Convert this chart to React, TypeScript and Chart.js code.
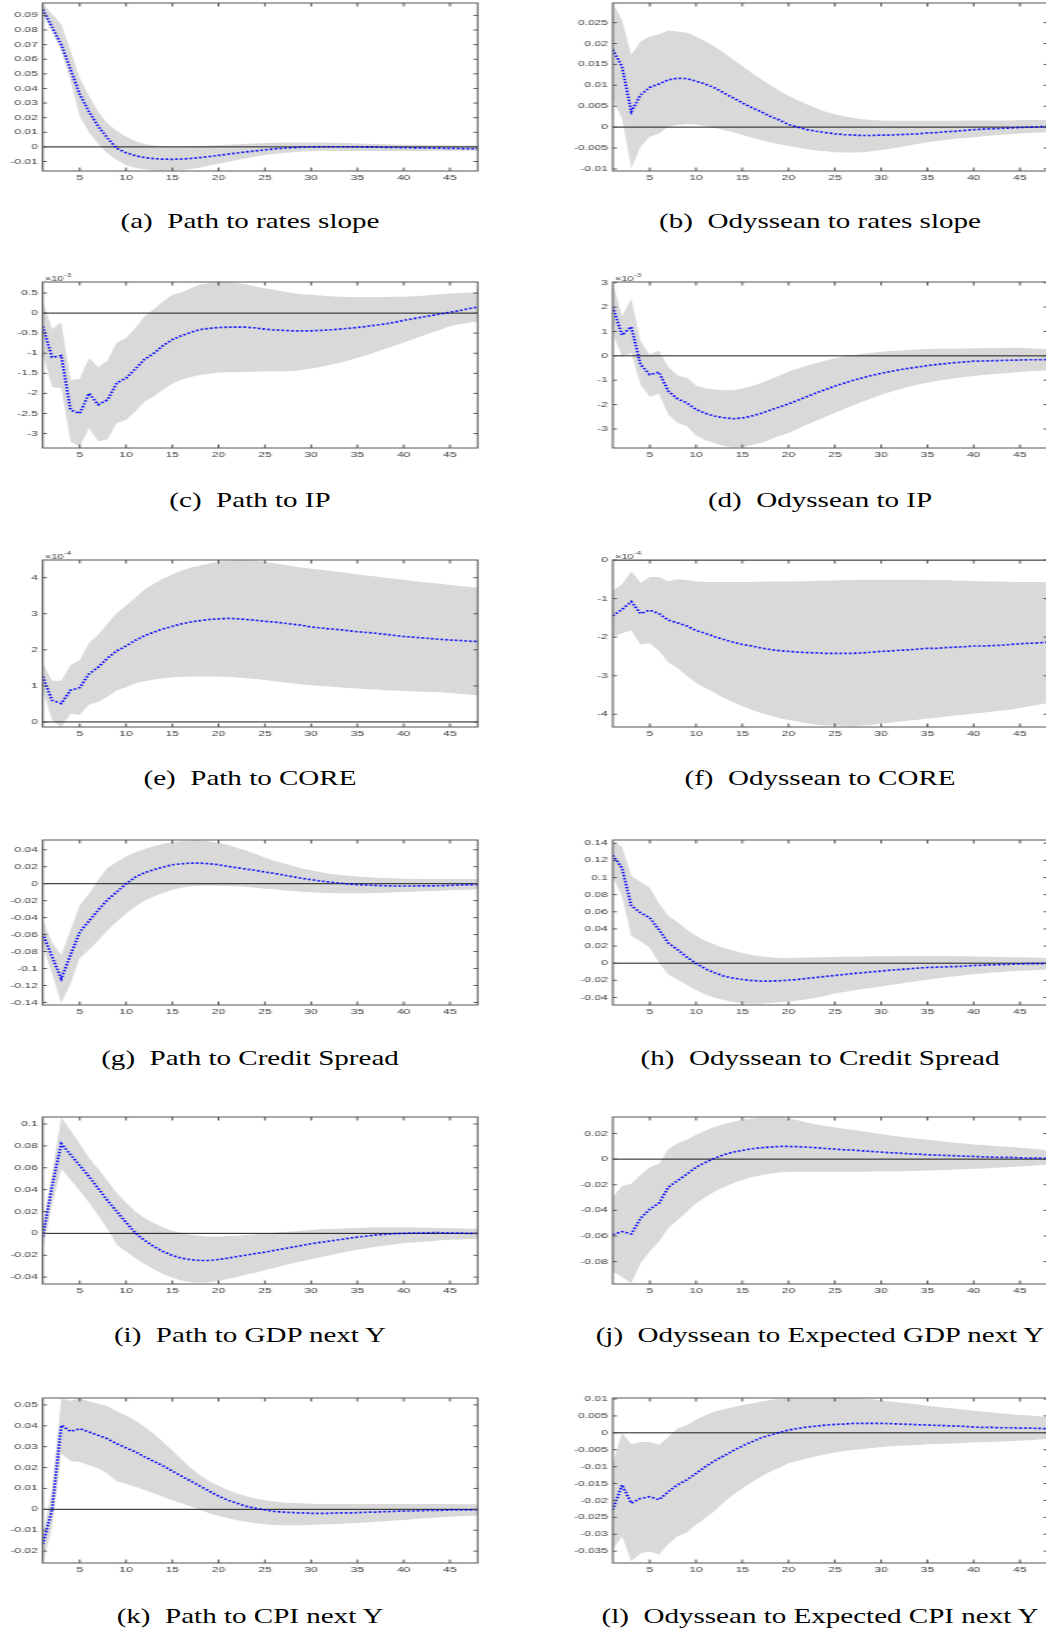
import React, { useEffect, useRef } from "react";
import { Chart, registerables } from "chart.js";

Chart.register(...registerables);

// ---------- horizon axis ----------
const HORIZONS = [1, 2, 3, 4, 5, 6, 7, 8, 9, 10, 11, 12, 13, 14, 15, 16, 17, 18, 19, 20, 21, 22, 23, 24, 25, 26, 27, 28, 29, 30, 31, 32, 33, 34, 35, 36, 37, 38, 39, 40, 41, 42, 43, 44, 45, 46, 47, 48];
const X_TICKS = [5, 10, 15, 20, 25, 30, 35, 40, 45];
const ZERO_REF = 0;

// ---------- (a) Path to rates slope ----------
const A_MEAN = [0.094, 0.082, 0.070, 0.053, 0.036, 0.024, 0.014, 0.006, -0.001, -0.004, -0.006, -0.0073, -0.0080, -0.0084, -0.0085, -0.0083, -0.0079, -0.0073, -0.0066, -0.0058, -0.0050, -0.0042, -0.0034, -0.0027, -0.0020, -0.0014, -0.0009, -0.0005, -0.0002, 0.0000, 0.0001, 0.0001, 0.0001, 0.0001, 0.0000, -0.0001, -0.0002, -0.0003, -0.0004, -0.0005, -0.0006, -0.0007, -0.0008, -0.0009, -0.0010, -0.0011, -0.0012, -0.0013];
const A_UPPER = [0.098, 0.091, 0.084, 0.066, 0.047, 0.035, 0.024, 0.016, 0.011, 0.007, 0.004, 0.002, 0.001, 0.0005, 0.0003, 0.0003, 0.0004, 0.0006, 0.0009, 0.0012, 0.0015, 0.0018, 0.0021, 0.0024, 0.0026, 0.0028, 0.0030, 0.0030, 0.0030, 0.0030, 0.0030, 0.0029, 0.0028, 0.0026, 0.0024, 0.0022, 0.0020, 0.0018, 0.0016, 0.0015, 0.0014, 0.0013, 0.0012, 0.0011, 0.0010, 0.0010, 0.0009, 0.0009];
const A_LOWER = [0.091, 0.079, 0.066, 0.045, 0.021, 0.010, 0.002, -0.0046, -0.0090, -0.0126, -0.0144, -0.0153, -0.0160, -0.0162, -0.0161, -0.0158, -0.0152, -0.0141, -0.0128, -0.0115, -0.0102, -0.0090, -0.0078, -0.0066, -0.0056, -0.0048, -0.0041, -0.0036, -0.0032, -0.0029, -0.0027, -0.0027, -0.0028, -0.0028, -0.0028, -0.0028, -0.0028, -0.0028, -0.0028, -0.0028, -0.0028, -0.0028, -0.0027, -0.0027, -0.0027, -0.0027, -0.0027, -0.0027];
const A_TICKS = [-0.01, 0, 0.01, 0.02, 0.03, 0.04, 0.05, 0.06, 0.07, 0.08, 0.09];

// ---------- (b) Odyssean to rates slope ----------
const B_MEAN = [0.0185, 0.0145, 0.0037, 0.0077, 0.0095, 0.0103, 0.0113, 0.0117, 0.0116, 0.0110, 0.0103, 0.0094, 0.0082, 0.0070, 0.0058, 0.0047, 0.0037, 0.0026, 0.0017, 0.0006, 0.0000, -0.0006, -0.0010, -0.0013, -0.0016, -0.0018, -0.0019, -0.0020, -0.0020, -0.0019, -0.0019, -0.0018, -0.0017, -0.0016, -0.0014, -0.0013, -0.0011, -0.0010, -0.0008, -0.0006, -0.0005, -0.0004, -0.0003, -0.0002, -0.0001, 0.0000, 0.0001, 0.0001];
const B_UPPER = [0.0297, 0.0256, 0.0173, 0.0205, 0.0217, 0.0222, 0.0231, 0.0229, 0.0226, 0.0217, 0.0205, 0.0193, 0.0178, 0.0162, 0.0146, 0.0130, 0.0115, 0.0101, 0.0087, 0.0075, 0.0064, 0.0054, 0.0045, 0.0037, 0.0031, 0.0026, 0.0022, 0.0019, 0.0017, 0.0016, 0.0015, 0.0015, 0.0015, 0.0015, 0.0015, 0.0015, 0.0015, 0.0015, 0.0016, 0.0016, 0.0016, 0.0016, 0.0016, 0.0016, 0.0017, 0.0017, 0.0017, 0.0017];
const B_LOWER = [0.0065, 0.0021, -0.0099, -0.0047, -0.0023, -0.0015, 0.0001, 0.0005, 0.0007, 0.0006, 0.0002, -0.0002, -0.0007, -0.0012, -0.0019, -0.0025, -0.0031, -0.0036, -0.0041, -0.0045, -0.0049, -0.0053, -0.0056, -0.0058, -0.0060, -0.0061, -0.0061, -0.0060, -0.0058, -0.0055, -0.0052, -0.0048, -0.0044, -0.0040, -0.0036, -0.0033, -0.0031, -0.0028, -0.0026, -0.0024, -0.0022, -0.0020, -0.0018, -0.0017, -0.0015, -0.0014, -0.0013, -0.0013];
const B_TICKS = [-0.01, -0.005, 0, 0.005, 0.01, 0.015, 0.02, 0.025];

// ---------- (c) Path to IP (x 1e-3) ----------
const C_MEAN = [-0.33, -1.10, -1.06, -2.41, -2.50, -2.00, -2.28, -2.16, -1.74, -1.62, -1.39, -1.15, -1.00, -0.81, -0.66, -0.56, -0.48, -0.41, -0.38, -0.36, -0.35, -0.35, -0.35, -0.37, -0.40, -0.42, -0.43, -0.44, -0.44, -0.44, -0.43, -0.42, -0.40, -0.38, -0.36, -0.33, -0.30, -0.27, -0.23, -0.18, -0.14, -0.10, -0.06, -0.02, 0.02, 0.06, 0.11, 0.15];
const C_UPPER = [0.29, -0.40, -0.23, -1.66, -1.64, -1.12, -1.35, -1.18, -0.73, -0.62, -0.37, -0.08, 0.10, 0.29, 0.46, 0.52, 0.62, 0.71, 0.75, 0.77, 0.77, 0.75, 0.71, 0.66, 0.62, 0.58, 0.54, 0.50, 0.47, 0.46, 0.44, 0.42, 0.41, 0.40, 0.40, 0.40, 0.40, 0.40, 0.41, 0.41, 0.42, 0.43, 0.45, 0.47, 0.49, 0.50, 0.51, 0.52];
const C_LOWER = [-1.00, -1.84, -1.87, -3.20, -3.32, -2.86, -3.20, -3.14, -2.74, -2.66, -2.45, -2.20, -2.07, -1.91, -1.76, -1.66, -1.59, -1.54, -1.51, -1.48, -1.47, -1.47, -1.46, -1.46, -1.45, -1.45, -1.45, -1.44, -1.42, -1.38, -1.34, -1.29, -1.24, -1.18, -1.12, -1.05, -0.97, -0.89, -0.81, -0.73, -0.65, -0.57, -0.49, -0.41, -0.33, -0.28, -0.24, -0.21];
const C_TICKS = [-3, -2.5, -2, -1.5, -1, -0.5, 0, 0.5];

// ---------- (d) Odyssean to IP (x 1e-3) ----------
const D_MEAN = [2.00, 0.85, 1.19, -0.36, -0.77, -0.67, -1.45, -1.76, -1.93, -2.20, -2.36, -2.47, -2.54, -2.58, -2.55, -2.47, -2.36, -2.23, -2.10, -1.97, -1.82, -1.67, -1.52, -1.38, -1.24, -1.12, -1.00, -0.90, -0.80, -0.72, -0.64, -0.57, -0.51, -0.46, -0.40, -0.36, -0.32, -0.28, -0.25, -0.22, -0.21, -0.20, -0.19, -0.18, -0.17, -0.16, -0.16, -0.15];
const D_UPPER = [3.00, 1.63, 2.34, 0.60, 0.05, 0.22, -0.46, -0.80, -0.90, -1.22, -1.34, -1.38, -1.41, -1.41, -1.34, -1.24, -1.12, -0.97, -0.81, -0.64, -0.52, -0.40, -0.29, -0.19, -0.10, -0.02, 0.04, 0.09, 0.13, 0.17, 0.20, 0.22, 0.24, 0.26, 0.28, 0.29, 0.29, 0.30, 0.30, 0.31, 0.31, 0.32, 0.32, 0.33, 0.33, 0.31, 0.29, 0.26];
const D_LOWER = [0.94, -0.04, 0.12, -1.17, -1.68, -1.55, -2.40, -2.75, -2.88, -3.27, -3.46, -3.57, -3.70, -3.77, -3.74, -3.66, -3.57, -3.43, -3.29, -3.16, -2.99, -2.82, -2.66, -2.50, -2.34, -2.18, -2.03, -1.88, -1.74, -1.60, -1.48, -1.37, -1.27, -1.18, -1.10, -1.03, -0.97, -0.92, -0.87, -0.83, -0.79, -0.75, -0.72, -0.69, -0.66, -0.63, -0.61, -0.59];
const D_TICKS = [-3, -2, -1, 0, 1, 2, 3];

// ---------- (e) Path to CORE (x 1e-4) ----------
const E_MEAN = [1.26, 0.60, 0.51, 0.88, 0.95, 1.33, 1.52, 1.77, 1.97, 2.11, 2.26, 2.39, 2.49, 2.58, 2.65, 2.72, 2.77, 2.81, 2.84, 2.86, 2.87, 2.86, 2.84, 2.82, 2.79, 2.77, 2.74, 2.71, 2.68, 2.63, 2.61, 2.58, 2.56, 2.53, 2.50, 2.48, 2.46, 2.43, 2.40, 2.37, 2.35, 2.33, 2.31, 2.29, 2.27, 2.26, 2.24, 2.23];
const E_UPPER = [1.63, 1.14, 1.14, 1.58, 1.72, 2.19, 2.42, 2.73, 3.02, 3.23, 3.44, 3.67, 3.83, 3.98, 4.09, 4.20, 4.28, 4.34, 4.39, 4.44, 4.47, 4.48, 4.48, 4.47, 4.44, 4.40, 4.36, 4.32, 4.28, 4.25, 4.22, 4.19, 4.16, 4.13, 4.09, 4.06, 4.03, 4.00, 3.97, 3.94, 3.91, 3.88, 3.85, 3.83, 3.80, 3.77, 3.75, 3.72];
const E_LOWER = [0.88, 0.05, -0.14, 0.23, 0.19, 0.48, 0.56, 0.70, 0.88, 0.96, 1.07, 1.13, 1.18, 1.21, 1.24, 1.25, 1.26, 1.26, 1.26, 1.26, 1.25, 1.23, 1.21, 1.19, 1.16, 1.13, 1.10, 1.07, 1.04, 1.02, 1.00, 0.98, 0.96, 0.94, 0.93, 0.91, 0.90, 0.88, 0.87, 0.86, 0.85, 0.84, 0.83, 0.82, 0.80, 0.78, 0.76, 0.74];
const E_TICKS = [0, 1, 2, 3, 4];

// ---------- (f) Odyssean to CORE (x 1e-4) ----------
const F_MEAN = [-1.45, -1.28, -1.08, -1.39, -1.30, -1.39, -1.56, -1.63, -1.71, -1.83, -1.90, -1.99, -2.06, -2.13, -2.19, -2.23, -2.28, -2.32, -2.35, -2.37, -2.39, -2.40, -2.41, -2.42, -2.42, -2.42, -2.42, -2.41, -2.39, -2.37, -2.36, -2.34, -2.33, -2.31, -2.29, -2.29, -2.27, -2.26, -2.25, -2.23, -2.23, -2.22, -2.21, -2.19, -2.17, -2.16, -2.15, -2.13];
const F_UPPER = [-0.80, -0.63, -0.29, -0.59, -0.44, -0.44, -0.55, -0.50, -0.52, -0.56, -0.57, -0.57, -0.57, -0.57, -0.57, -0.57, -0.56, -0.56, -0.56, -0.56, -0.55, -0.55, -0.54, -0.54, -0.53, -0.52, -0.52, -0.51, -0.51, -0.51, -0.51, -0.51, -0.51, -0.51, -0.52, -0.52, -0.52, -0.53, -0.54, -0.55, -0.55, -0.56, -0.56, -0.57, -0.57, -0.57, -0.57, -0.57];
const F_LOWER = [-1.99, -1.90, -1.83, -2.19, -2.16, -2.36, -2.65, -2.80, -3.00, -3.19, -3.32, -3.45, -3.58, -3.69, -3.79, -3.88, -3.97, -4.03, -4.10, -4.15, -4.19, -4.23, -4.27, -4.29, -4.29, -4.30, -4.31, -4.29, -4.28, -4.24, -4.22, -4.19, -4.16, -4.14, -4.11, -4.09, -4.06, -4.03, -4.01, -3.98, -3.96, -3.93, -3.90, -3.88, -3.84, -3.79, -3.75, -3.71];
const F_TICKS = [-4, -3, -2, -1, 0];

// ---------- (g) Path to Credit Spread ----------
const G_MEAN = [-0.059, -0.086, -0.112, -0.084, -0.057, -0.044, -0.031, -0.019, -0.0098, 0.0000, 0.0078, 0.0130, 0.0165, 0.0196, 0.0223, 0.0235, 0.0243, 0.0243, 0.0235, 0.0223, 0.0204, 0.0188, 0.0172, 0.0157, 0.0137, 0.0122, 0.0102, 0.0082, 0.0063, 0.0047, 0.0031, 0.0020, 0.0008, -0.0004, -0.0012, -0.0016, -0.0020, -0.0024, -0.0027, -0.0027, -0.0027, -0.0026, -0.0025, -0.0024, -0.0020, -0.0016, -0.0012, -0.0008];
const G_UPPER = [-0.043, -0.069, -0.084, -0.055, -0.025, -0.012, 0.0047, 0.0188, 0.0255, 0.032, 0.037, 0.041, 0.044, 0.047, 0.049, 0.050, 0.051, 0.051, 0.050, 0.048, 0.046, 0.042, 0.039, 0.035, 0.031, 0.027, 0.024, 0.021, 0.018, 0.0157, 0.0137, 0.0118, 0.0106, 0.0094, 0.0086, 0.0078, 0.0071, 0.0067, 0.0063, 0.0059, 0.0057, 0.0056, 0.0055, 0.0055, 0.0055, 0.0055, 0.0055, 0.0055];
const G_LOWER = [-0.073, -0.106, -0.141, -0.118, -0.088, -0.078, -0.067, -0.055, -0.045, -0.035, -0.027, -0.020, -0.015, -0.011, -0.007, -0.0047, -0.0031, -0.0024, -0.0024, -0.0024, -0.0027, -0.0031, -0.0039, -0.0047, -0.0059, -0.0067, -0.0078, -0.0086, -0.0094, -0.0102, -0.0106, -0.0110, -0.0114, -0.0114, -0.0114, -0.0114, -0.0110, -0.0106, -0.0102, -0.0098, -0.0094, -0.0090, -0.0086, -0.0082, -0.0078, -0.0074, -0.0070, -0.0067];
const G_TICKS = [-0.14, -0.12, -0.1, -0.08, -0.06, -0.04, -0.02, 0, 0.02, 0.04];

// ---------- (h) Odyssean to Credit Spread ----------
const H_MEAN = [0.126, 0.111, 0.067, 0.059, 0.053, 0.039, 0.0236, 0.0159, 0.0070, -0.0004, -0.0066, -0.0112, -0.0151, -0.0174, -0.0190, -0.0202, -0.0209, -0.0209, -0.0205, -0.0198, -0.0190, -0.0178, -0.0167, -0.0155, -0.0143, -0.0132, -0.0120, -0.0112, -0.0101, -0.0093, -0.0081, -0.0074, -0.0066, -0.0058, -0.0050, -0.0047, -0.0043, -0.0039, -0.0035, -0.0027, -0.0023, -0.0019, -0.0016, -0.0012, -0.0008, -0.0006, -0.0004, -0.0004];
const H_UPPER = [0.142, 0.136, 0.102, 0.095, 0.088, 0.070, 0.055, 0.048, 0.039, 0.032, 0.026, 0.0217, 0.0178, 0.0147, 0.0120, 0.0097, 0.0081, 0.0070, 0.0062, 0.0062, 0.0064, 0.0066, 0.0068, 0.0070, 0.0072, 0.0074, 0.0076, 0.0078, 0.0080, 0.0081, 0.0082, 0.0083, 0.0084, 0.0085, 0.0085, 0.0085, 0.0084, 0.0082, 0.0080, 0.0078, 0.0076, 0.0074, 0.0072, 0.0070, 0.0068, 0.0066, 0.0064, 0.0062];
const H_LOWER = [0.101, 0.078, 0.032, 0.0256, 0.0178, 0.0004, -0.0132, -0.0190, -0.0256, -0.0314, -0.0364, -0.0403, -0.0430, -0.0453, -0.0469, -0.0473, -0.0473, -0.0465, -0.0457, -0.0446, -0.0435, -0.0422, -0.0403, -0.0379, -0.0353, -0.0335, -0.0318, -0.0302, -0.0286, -0.0271, -0.0255, -0.0239, -0.0223, -0.0207, -0.0192, -0.0178, -0.0165, -0.0152, -0.0140, -0.0129, -0.0119, -0.0110, -0.0102, -0.0095, -0.0089, -0.0084, -0.0079, -0.0074];
const H_TICKS = [-0.04, -0.02, 0, 0.02, 0.04, 0.06, 0.08, 0.1, 0.12, 0.14];

// ---------- (i) Path to GDP next Y ----------
const I_MEAN = [-0.003, 0.043, 0.082, 0.072, 0.062, 0.052, 0.041, 0.030, 0.020, 0.010, 0.0003, -0.0064, -0.0120, -0.0166, -0.0202, -0.0227, -0.0242, -0.0248, -0.0248, -0.0239, -0.0227, -0.0212, -0.0199, -0.0184, -0.0172, -0.0156, -0.0141, -0.0126, -0.0110, -0.0095, -0.0083, -0.0071, -0.0058, -0.0046, -0.0034, -0.0025, -0.0015, -0.0009, -0.0003, 0.0000, 0.0003, 0.0003, 0.0006, 0.0006, 0.0003, 0.0003, 0.0000, 0.0000];
const I_UPPER = [0.006, 0.055, 0.106, 0.094, 0.082, 0.069, 0.059, 0.048, 0.037, 0.028, 0.020, 0.0141, 0.0095, 0.0055, 0.0025, 0.0003, -0.0012, -0.0021, -0.0028, -0.0028, -0.0025, -0.0021, -0.0015, -0.0009, 0.0000, 0.0006, 0.0012, 0.0018, 0.0025, 0.0031, 0.0037, 0.0040, 0.0043, 0.0046, 0.0049, 0.0052, 0.0055, 0.0055, 0.0055, 0.0055, 0.0055, 0.0052, 0.0052, 0.0049, 0.0046, 0.0046, 0.0043, 0.0043];
const I_LOWER = [-0.015, 0.026, 0.059, 0.049, 0.039, 0.028, 0.0163, 0.0040, -0.0104, -0.0166, -0.0227, -0.0279, -0.0328, -0.0371, -0.0405, -0.0432, -0.0448, -0.0451, -0.0448, -0.0436, -0.0417, -0.0399, -0.0377, -0.0359, -0.0337, -0.0316, -0.0294, -0.0273, -0.0255, -0.0236, -0.0218, -0.0199, -0.0181, -0.0166, -0.0150, -0.0135, -0.0123, -0.0110, -0.0101, -0.0089, -0.0083, -0.0077, -0.0071, -0.0064, -0.0058, -0.0055, -0.0052, -0.0049];
const I_TICKS = [-0.04, -0.02, 0, 0.02, 0.04, 0.06, 0.08, 0.1];

// ---------- (j) Odyssean to Expected GDP next Y ----------
const J_MEAN = [-0.0590, -0.0566, -0.0584, -0.0462, -0.0391, -0.0344, -0.0219, -0.0167, -0.0117, -0.0063, -0.0026, 0.0008, 0.0034, 0.0055, 0.0068, 0.0081, 0.0089, 0.0094, 0.0099, 0.0099, 0.0097, 0.0094, 0.0089, 0.0083, 0.0078, 0.0073, 0.0070, 0.0065, 0.0060, 0.0055, 0.0050, 0.0047, 0.0042, 0.0039, 0.0034, 0.0031, 0.0029, 0.0026, 0.0023, 0.0021, 0.0018, 0.0016, 0.0013, 0.0013, 0.0010, 0.0008, 0.0008, 0.0005];
const J_UPPER = [-0.0297, -0.0209, -0.0193, -0.0123, -0.0063, -0.0037, 0.0078, 0.0125, 0.0151, 0.0190, 0.0224, 0.0250, 0.0274, 0.0292, 0.0308, 0.0316, 0.0323, 0.0326, 0.0326, 0.0318, 0.0303, 0.0287, 0.0271, 0.0258, 0.0248, 0.0237, 0.0227, 0.0217, 0.0206, 0.0196, 0.0185, 0.0177, 0.0167, 0.0159, 0.0151, 0.0143, 0.0136, 0.0128, 0.0123, 0.0115, 0.0110, 0.0104, 0.0099, 0.0094, 0.0089, 0.0083, 0.0078, 0.0068];
const J_LOWER = [-0.0879, -0.0918, -0.0970, -0.0814, -0.0722, -0.0644, -0.0540, -0.0475, -0.0410, -0.0344, -0.0297, -0.0253, -0.0219, -0.0188, -0.0162, -0.0141, -0.0125, -0.0112, -0.0104, -0.0099, -0.0099, -0.0099, -0.0099, -0.0099, -0.0099, -0.0099, -0.0098, -0.0098, -0.0097, -0.0097, -0.0096, -0.0095, -0.0093, -0.0091, -0.0089, -0.0087, -0.0084, -0.0081, -0.0079, -0.0076, -0.0073, -0.0069, -0.0066, -0.0062, -0.0057, -0.0053, -0.0048, -0.0044];
const J_TICKS = [-0.08, -0.06, -0.04, -0.02, 0, 0.02];

// ---------- (k) Path to CPI next Y ----------
const K_MEAN = [-0.0167, -0.0003, 0.0402, 0.0373, 0.0386, 0.0370, 0.0354, 0.0338, 0.0314, 0.0294, 0.0275, 0.0251, 0.0230, 0.0208, 0.0183, 0.0159, 0.0135, 0.0111, 0.0087, 0.0063, 0.0044, 0.0029, 0.0014, 0.0005, -0.0003, -0.0010, -0.0013, -0.0016, -0.0017, -0.0019, -0.0019, -0.0019, -0.0017, -0.0017, -0.0016, -0.0014, -0.0013, -0.0011, -0.0010, -0.0008, -0.0008, -0.0006, -0.0005, -0.0005, -0.0003, -0.0003, -0.0003, -0.0002];
const K_UPPER = [-0.0130, 0.0100, 0.0532, 0.0520, 0.0532, 0.0516, 0.0505, 0.0494, 0.0468, 0.0449, 0.0425, 0.0394, 0.0362, 0.0322, 0.0282, 0.0240, 0.0198, 0.0163, 0.0135, 0.0113, 0.0092, 0.0076, 0.0063, 0.0052, 0.0044, 0.0038, 0.0033, 0.0030, 0.0029, 0.0027, 0.0026, 0.0026, 0.0025, 0.0025, 0.0025, 0.0025, 0.0025, 0.0025, 0.0025, 0.0025, 0.0025, 0.0025, 0.0025, 0.0025, 0.0025, 0.0024, 0.0024, 0.0024];
const K_LOWER = [-0.0257, -0.0090, 0.0267, 0.0230, 0.0227, 0.0211, 0.0195, 0.0171, 0.0135, 0.0121, 0.0108, 0.0092, 0.0076, 0.0060, 0.0044, 0.0029, 0.0013, -0.0003, -0.0019, -0.0032, -0.0043, -0.0052, -0.0060, -0.0067, -0.0071, -0.0075, -0.0076, -0.0076, -0.0076, -0.0075, -0.0073, -0.0071, -0.0070, -0.0068, -0.0065, -0.0063, -0.0060, -0.0057, -0.0054, -0.0051, -0.0048, -0.0044, -0.0041, -0.0038, -0.0035, -0.0033, -0.0032, -0.0030];
const K_TICKS = [-0.02, -0.01, 0, 0.01, 0.02, 0.03, 0.04, 0.05];

// ---------- (l) Odyssean to Expected CPI next Y ----------
const L_MEAN = [-0.0228, -0.0154, -0.0208, -0.0194, -0.0189, -0.0198, -0.0174, -0.0154, -0.0139, -0.0120, -0.0100, -0.0083, -0.0068, -0.0053, -0.0039, -0.0027, -0.0015, -0.0007, 0.0001, 0.0008, 0.0013, 0.0017, 0.0020, 0.0023, 0.0025, 0.0026, 0.0028, 0.0028, 0.0028, 0.0028, 0.0027, 0.0026, 0.0025, 0.0024, 0.0023, 0.0022, 0.0021, 0.0020, 0.0019, 0.0017, 0.0016, 0.0016, 0.0015, 0.0015, 0.0014, 0.0014, 0.0013, 0.0012];
const L_UPPER = [-0.0090, 0.0000, -0.0034, -0.0027, -0.0027, -0.0036, -0.0012, 0.0013, 0.0023, 0.0039, 0.0052, 0.0062, 0.0070, 0.0076, 0.0082, 0.0087, 0.0093, 0.0097, 0.0100, 0.0102, 0.0103, 0.0103, 0.0103, 0.0103, 0.0103, 0.0103, 0.0103, 0.0101, 0.0099, 0.0096, 0.0093, 0.0090, 0.0087, 0.0084, 0.0080, 0.0077, 0.0074, 0.0071, 0.0068, 0.0065, 0.0062, 0.0060, 0.0057, 0.0055, 0.0053, 0.0051, 0.0049, 0.0046];
const L_LOWER = [-0.0346, -0.0306, -0.0380, -0.0356, -0.0351, -0.0360, -0.0329, -0.0306, -0.0295, -0.0272, -0.0252, -0.0231, -0.0205, -0.0184, -0.0164, -0.0146, -0.0130, -0.0115, -0.0103, -0.0090, -0.0083, -0.0076, -0.0069, -0.0063, -0.0058, -0.0054, -0.0051, -0.0048, -0.0045, -0.0042, -0.0040, -0.0038, -0.0037, -0.0036, -0.0034, -0.0033, -0.0032, -0.0031, -0.0030, -0.0028, -0.0028, -0.0027, -0.0026, -0.0025, -0.0023, -0.0022, -0.0020, -0.0018];
const L_TICKS = [-0.035, -0.03, -0.025, -0.02, -0.015, -0.01, -0.005, 0, 0.005, 0.01];

// ---------- layout / style ----------
const SX = 1.6; // horizontal stretch of each plot canvas
const CANVAS_W = 306;
const PAD_TOP = 12;
const X_AXIS_H = 22;
const ROW_TOPS = [3, 282, 560, 840, 1117, 1398];
const ROW_HEIGHTS = [168, 166, 167, 165, 167, 165];
const COL_LEFT = [0, 560];
const Y_AXIS_W = [26.69, 32.94];
const PAD_RIGHT = [7.69, 1.44];
const CAPTION_CX = [250, 819.5];
const CAPTION_BASELINE = 225;
const BAND = "#d9d9d9";
const LINE_BLUE = "#0000ff";
const FRAME = "#555555";
const TICK_COLOR = "#3a3a3a";
const TICK_FONT = { family: "'Liberation Sans', Arial, Helvetica, sans-serif", size: 7.5 };

type PanelSpec = {
  caption: string;
  mean: number[];
  upper: number[];
  lower: number[];
  yMin: number;
  yMax: number;
  yTicks: number[];
  exp: string | null;
  row: number;
  col: number;
};

const PANELS: PanelSpec[] = [
  { caption: "(a)  Path to rates slope", mean: A_MEAN, upper: A_UPPER, lower: A_LOWER, yMin: -0.0165, yMax: 0.0985, yTicks: A_TICKS, exp: null, row: 0, col: 0 },
  { caption: "(b)  Odyssean to rates slope", mean: B_MEAN, upper: B_UPPER, lower: B_LOWER, yMin: -0.0105, yMax: 0.0297, yTicks: B_TICKS, exp: null, row: 0, col: 1 },
  { caption: "(c)  Path to IP", mean: C_MEAN, upper: C_UPPER, lower: C_LOWER, yMin: -3.36, yMax: 0.775, yTicks: C_TICKS, exp: "-3", row: 1, col: 0 },
  { caption: "(d)  Odyssean to IP", mean: D_MEAN, upper: D_UPPER, lower: D_LOWER, yMin: -3.78, yMax: 3.03, yTicks: D_TICKS, exp: "-3", row: 1, col: 1 },
  { caption: "(e)  Path to CORE", mean: E_MEAN, upper: E_UPPER, lower: E_LOWER, yMin: -0.14, yMax: 4.49, yTicks: E_TICKS, exp: "-4", row: 2, col: 0 },
  { caption: "(f)  Odyssean to CORE", mean: F_MEAN, upper: F_UPPER, lower: F_LOWER, yMin: -4.33, yMax: 0, yTicks: F_TICKS, exp: "-4", row: 2, col: 1 },
  { caption: "(g)  Path to Credit Spread", mean: G_MEAN, upper: G_UPPER, lower: G_LOWER, yMin: -0.143, yMax: 0.0515, yTicks: G_TICKS, exp: null, row: 3, col: 0 },
  { caption: "(h)  Odyssean to Credit Spread", mean: H_MEAN, upper: H_UPPER, lower: H_LOWER, yMin: -0.0488, yMax: 0.1438, yTicks: H_TICKS, exp: null, row: 3, col: 1 },
  { caption: "(i)  Path to GDP next Y", mean: I_MEAN, upper: I_UPPER, lower: I_LOWER, yMin: -0.0463, yMax: 0.1064, yTicks: I_TICKS, exp: null, row: 4, col: 0 },
  { caption: "(j)  Odyssean to Expected GDP next Y", mean: J_MEAN, upper: J_UPPER, lower: J_LOWER, yMin: -0.0975, yMax: 0.0329, yTicks: J_TICKS, exp: null, row: 4, col: 1 },
  { caption: "(k)  Path to CPI next Y", mean: K_MEAN, upper: K_UPPER, lower: K_LOWER, yMin: -0.0257, yMax: 0.0533, yTicks: K_TICKS, exp: null, row: 5, col: 0 },
  { caption: "(l)  Odyssean to Expected CPI next Y", mean: L_MEAN, upper: L_UPPER, lower: L_LOWER, yMin: -0.0385, yMax: 0.0103, yTicks: L_TICKS, exp: null, row: 5, col: 1 },
];

const fmtTick = (v: number) => {
  const n = parseFloat(Number(v).toFixed(6));
  return n === 0 ? "0" : String(n);
};

function makeAxesPlugin(exp: string | null) {
  return {
    id: "matlabAxes",
    afterDatasetsDraw(chart: any) {
      const { ctx, chartArea, scales } = chart;
      const { left, right, top, bottom } = chartArea;
      ctx.save();
      ctx.strokeStyle = FRAME;
      ctx.lineWidth = 1;
      ctx.setLineDash([]);
      ctx.beginPath();
      for (const t of scales.y.ticks) {
        const py = scales.y.getPixelForValue(t.value);
        ctx.moveTo(left, py);
        ctx.lineTo(left + 2.6, py);
        ctx.moveTo(right, py);
        ctx.lineTo(right - 2.6, py);
      }
      for (const t of scales.x.ticks) {
        const px = scales.x.getPixelForValue(t.value);
        ctx.moveTo(px, bottom);
        ctx.lineTo(px, bottom - 3.5);
        ctx.moveTo(px, top);
        ctx.lineTo(px, top + 3.5);
      }
      ctx.stroke();
      ctx.strokeRect(left, top, right - left, bottom - top);
      if (exp) {
        ctx.fillStyle = TICK_COLOR;
        ctx.textBaseline = "alphabetic";
        ctx.textAlign = "left";
        ctx.font = "7px 'Liberation Sans', Arial, sans-serif";
        const base = "\u00d710";
        ctx.fillText(base, left + 1.2, top - 1.5);
        const w = ctx.measureText(base).width;
        ctx.font = "5px 'Liberation Sans', Arial, sans-serif";
        ctx.fillText(exp, left + 1.4 + w, top - 5);
      }
      ctx.restore();
    },
  };
}

function PlotPanel({ p }: { p: PanelSpec }) {
  const ref = useRef<HTMLCanvasElement | null>(null);
  const h = PAD_TOP + ROW_HEIGHTS[p.row] + X_AXIS_H;
  useEffect(() => {
    const canvas = ref.current;
    if (!canvas) return;
    const pts = (arr: number[]) => arr.map((y, i) => ({ x: HORIZONS[i], y }));
    const xFirst = HORIZONS[0];
    const xLast = HORIZONS[HORIZONS.length - 1];
    const chart = new Chart(canvas, {
      type: "line",
      data: {
        datasets: [
          { label: "IRF", data: pts(p.mean), borderColor: LINE_BLUE, borderWidth: 1.7, borderDash: [1.5, 1.5], borderCapStyle: "butt", pointRadius: 0, fill: false, tension: 0, order: 0 },
          { label: "zero", data: [{ x: xFirst, y: ZERO_REF }, { x: xLast, y: ZERO_REF }], borderColor: "#1a1a1a", borderWidth: 1, pointRadius: 0, fill: false, order: 1 },
          { label: "upper", data: pts(p.upper), borderColor: "rgba(0,0,0,0)", borderWidth: 0, backgroundColor: BAND, pointRadius: 0, fill: "+1", tension: 0, order: 2 },
          { label: "lower", data: pts(p.lower), borderColor: "rgba(0,0,0,0)", borderWidth: 0, pointRadius: 0, fill: false, tension: 0, order: 3 },
        ],
      } as any,
      options: {
        responsive: false,
        maintainAspectRatio: false,
        animation: false,
        devicePixelRatio: 1,
        events: [],
        layout: { padding: { top: PAD_TOP, right: PAD_RIGHT[p.col], left: 0, bottom: 0 } },
        plugins: { legend: { display: false }, tooltip: { enabled: false }, title: { display: false } },
        scales: {
          x: {
            type: "linear",
            min: xFirst,
            max: xLast,
            bounds: "data",
            grid: { display: false, drawTicks: false },
            border: { display: false },
            ticks: { font: TICK_FONT, color: TICK_COLOR, padding: 2, maxRotation: 0, autoSkip: false, callback: (v: any) => String(v) },
            afterBuildTicks: (s: any) => { s.ticks = X_TICKS.map((v) => ({ value: v })); },
            afterFit: (s: any) => { s.height = X_AXIS_H; },
          },
          y: {
            type: "linear",
            min: p.yMin,
            max: p.yMax,
            bounds: "data",
            grid: { display: false, drawTicks: false },
            border: { display: false },
            ticks: { font: TICK_FONT, color: TICK_COLOR, padding: 3, autoSkip: false, callback: (v: any) => fmtTick(v) },
            afterBuildTicks: (s: any) => { s.ticks = p.yTicks.map((v) => ({ value: v })); },
            afterFit: (s: any) => { s.width = Y_AXIS_W[p.col]; },
          },
        },
      } as any,
      plugins: [makeAxesPlugin(p.exp)],
    });
    return () => chart.destroy();
  }, [p]);
  return (
    <canvas
      ref={ref}
      width={CANVAS_W}
      height={h}
      style={{ position: "absolute", left: COL_LEFT[p.col], top: ROW_TOPS[p.row] - PAD_TOP, width: CANVAS_W * SX, height: h }}
    />
  );
}

function Caption({ p }: { p: PanelSpec }) {
  const fontSize = 22;
  const baseline = ROW_TOPS[p.row] + CAPTION_BASELINE;
  return (
    <div
      style={{
        position: "absolute",
        left: CAPTION_CX[p.col] - 300,
        width: 600,
        top: baseline - fontSize * 0.8375,
        textAlign: "center",
        fontFamily: "'Liberation Serif', 'Times New Roman', serif",
        fontSize,
        lineHeight: `${fontSize}px`,
        whiteSpace: "pre",
        color: "#000",
        transform: "scaleX(1.32)",
        transformOrigin: "50% 50%",
      }}
    >
      {p.caption}
    </div>
  );
}

export default function App() {
  return (
    <div style={{ position: "absolute", left: 0, top: 0, width: 1046, height: 1633, overflow: "hidden", background: "#fff" }}>
      {PANELS.map((p, i) => (
        <PlotPanel key={"c" + i} p={p} />
      ))}
      {PANELS.map((p, i) => (
        <Caption key={"t" + i} p={p} />
      ))}
    </div>
  );
}
